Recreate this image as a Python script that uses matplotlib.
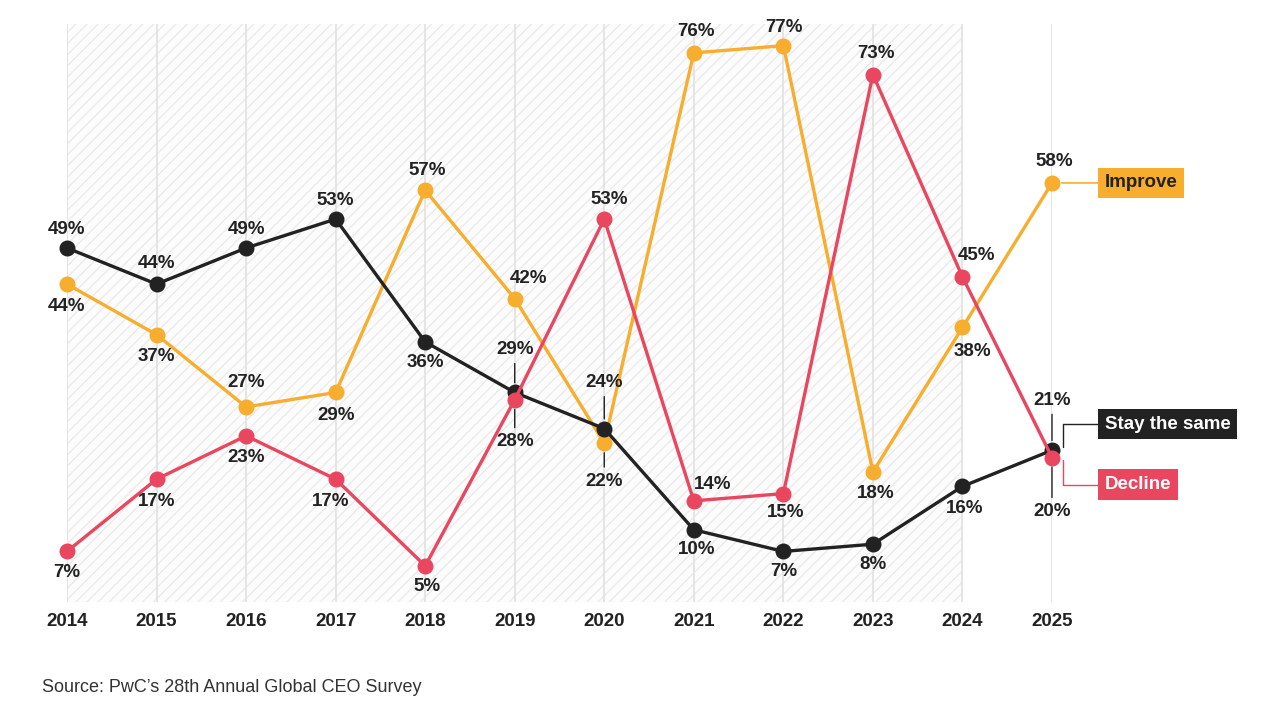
import numpy as np
import matplotlib
matplotlib.use("Agg")
import matplotlib.pyplot as plt
from matplotlib.transforms import ScaledTranslation

plt.rcParams["font.family"] = ["Liberation Sans", "DejaVu Sans"]
plt.rcParams["hatch.linewidth"] = 1.0

years = [2014, 2015, 2016, 2017, 2018, 2019, 2020, 2021, 2022, 2023, 2024, 2025]
improve = [44, 37, 27, 29, 57, 42, 22, 76, 77, 18, 38, 58]
same = [49, 44, 49, 53, 36, 29, 24, 10, 7, 8, 16, 21]
decline = [7, 17, 23, 17, 5, 28, 53, 14, 15, 73, 45, 20]
source = "Source: PwC\u2019s 28th Annual Global CEO Survey"

ORANGE = "#F7AE2E"
BLACK = "#222222"
RED = "#E9475F"
TXT = "#222222"
FS = 13.5

# label offsets in pixels (dx, dy), dy positive = up; "L" marks a leader line
off_improve = [(0, -22), (0, -22), (0, 24), (0, -23), (2, 20), (14, 20), ("L", -38),
               (2, 21), (1, 18), (3, -22), (10, -24), (2, 21)]
off_same = [(0, 18), (0, 21), (0, 18), (0, 19), (0, -21), ("L", 43), ("L", 46),
            (3, -20), (0, -20), (0, -20), (2, -22), ("L", 50)]
off_decline = [(0, -21), (0, -22), (0, -22), (-5, -22), (2, -21), ("L", -42), (5, 20),
               (19, 16), (2, -19), (3, 21), (14, 21), ("L", -54)]

W, H = 1265, 711
fig = plt.figure(figsize=(W / 100, H / 100), dpi=100)
ax = fig.add_axes([67 / W, (711 - 602) / H, (1052 - 67) / W, (602 - 24) / H])
ax.set_xlim(2014, 2025)
ax.set_ylim(0, 80)
for s in ax.spines.values():
    s.set_visible(False)
ax.set_yticks([])
ax.set_xticks(years)
ax.set_xticklabels([str(y) for y in years], fontsize=FS, fontweight="bold", color=TXT)
ax.tick_params(axis="x", length=0, pad=8)

ax.axvspan(years[0], years[-2], facecolor="#fcfcfc", edgecolor="#ebebeb",
           hatch="///", linewidth=0, zorder=0)
ax.vlines(years, 0, 80, color="#e3e3e3", lw=1.3, zorder=1)

px = 72 / 100  # pixels -> points


def draw(vals, color, offs, z):
    ax.plot(years, vals, color=color, lw=2.4, marker="o", ms=10.5,
            zorder=z, clip_on=False, solid_joinstyle="round")
    for x, v, o in zip(years, vals, offs):
        if o[0] == "L":
            dy = o[1]
            ax.annotate(f"{v}%", xy=(x, v), xytext=(0, dy * px),
                        textcoords="offset points", ha="center", va="center",
                        fontsize=FS, fontweight="bold", color=TXT, zorder=10,
                        arrowprops=dict(arrowstyle="-", color=TXT, lw=1.0,
                                        shrinkA=2, shrinkB=7))
        else:
            dx, dy = o
            ax.annotate(f"{v}%", xy=(x, v), xytext=(dx * px, dy * px),
                        textcoords="offset points", ha="center", va="center",
                        fontsize=FS, fontweight="bold", color=TXT, zorder=10)


draw(improve, ORANGE, off_improve, 3)
draw(same, BLACK, off_same, 4)
draw(decline, RED, off_decline, 5)

# series tags on the right
box = dict(boxstyle="square,pad=0.35", ec="none")
ax.annotate("Improve", xy=(years[-1], improve[-1]), xytext=(53 * px, 0),
            textcoords="offset points", ha="left", va="center",
            fontsize=FS, fontweight="bold", color=TXT, annotation_clip=False,
            bbox=dict(box, fc=ORANGE),
            arrowprops=dict(arrowstyle="-", color=ORANGE, lw=1.2, shrinkA=0, shrinkB=7))

shift = ax.transData + ScaledTranslation(11 / 100, 0, fig.dpi_scale_trans)
ax.annotate("Stay the same", xy=(years[-1], same[-1]), xycoords=shift,
            xytext=(42 * px, 26 * px), textcoords="offset points",
            ha="left", va="center", fontsize=FS, fontweight="bold", color="white",
            annotation_clip=False, bbox=dict(box, fc=BLACK),
            arrowprops=dict(arrowstyle="-", color=BLACK, lw=1.0, shrinkA=0, shrinkB=2,
                            connectionstyle="angle,angleA=0,angleB=90,rad=0"))
ax.annotate("Decline", xy=(years[-1], decline[-1]), xycoords=shift,
            xytext=(42 * px, -27 * px), textcoords="offset points",
            ha="left", va="center", fontsize=FS, fontweight="bold", color="white",
            annotation_clip=False, bbox=dict(box, fc=RED),
            arrowprops=dict(arrowstyle="-", color=RED, lw=1.0, shrinkA=0, shrinkB=2,
                            connectionstyle="angle,angleA=0,angleB=90,rad=0"))

fig.text(42 / W, 1 - 688 / H, source, fontsize=13, color="#333333", va="center")

fig.savefig("out.png", dpi=100)
